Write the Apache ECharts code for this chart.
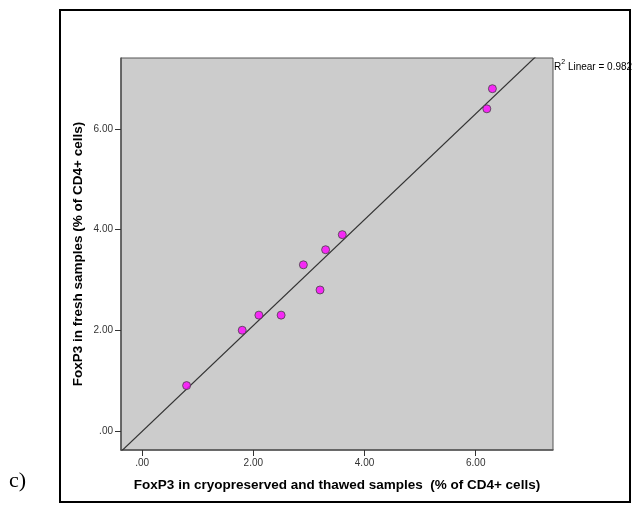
<!DOCTYPE html>
<html>
<head>
<meta charset="utf-8">
<script src="https://cdn.jsdelivr.net/npm/echarts@6/dist/echarts.min.js"></script>
<style>
html, body { margin: 0; padding: 0; background: #fff; }
#chart { width: 632px; height: 509px; }
</style>
</head>
<body>
<div id="chart"></div>
<script>
// cryopreserved/thawed (x) vs fresh (y), % of CD4+ cells
var xValues = [0.8, 1.8, 2.1, 2.5, 2.9, 3.2, 3.3, 3.6, 6.2, 6.3];
var yValues = [0.9, 2.0, 2.3, 2.3, 3.3, 2.8, 3.6, 3.9, 6.4, 6.8];
var tickValues = [0, 2, 4, 6];
var xRange = [-0.38, 7.39];
var yRange = [-0.38, 7.41];
var r2Text = "0.982";

var myChart = echarts.init(document.getElementById("chart"));

var points = [];
for (var i = 0; i < xValues.length; i++) {
	points.push([xValues[i], yValues[i]]);
}

// least squares fit line
function fitLine(xs, ys) {
	var n = xs.length, mx = 0, my = 0, sxy = 0, sxx = 0;
	for (var i = 0; i < n; i++) { mx += xs[i]; my += ys[i]; }
	mx = mx / n; my = my / n;
	for (var i = 0; i < n; i++) {
		sxy += (xs[i] - mx) * (ys[i] - my);
		sxx += (xs[i] - mx) * (xs[i] - mx);
	}
	var b = sxy / sxx;
	return { slope: b, intercept: my - b * mx };
}
var fit = fitLine(xValues, yValues);
var lineData = [
	[xRange[0], fit.intercept + fit.slope * xRange[0]],
	[xRange[1], fit.intercept + fit.slope * xRange[1]]
];

function tickFmt(v) {
	return v === 0 ? ".00" : v.toFixed(2);
}

var option = {
	animation: false,
	backgroundColor: "#fff",
	textStyle: { fontFamily: "Liberation Sans, Arial" },
	grid: {
		left: 121, top: 58, right: 79, bottom: 59,
		show: true, backgroundColor: "#cccccc", borderColor: "#555", borderWidth: 1
	},
	xAxis: {
		type: "value", min: xRange[0], max: xRange[1],
		name: "FoxP3 in cryopreserved and thawed samples  (% of CD4+ cells)",
		nameLocation: "middle", nameGap: 28, nameMoveOverlap: false,
		nameTextStyle: { fontSize: 13.5, fontWeight: "bold", color: "#000" },
		axisLine: { show: true, onZero: false, lineStyle: { color: "#555", width: 1.5 } },
		axisTick: { show: true, length: 6, customValues: tickValues, lineStyle: { color: "#333" } },
		axisLabel: { customValues: tickValues, formatter: tickFmt, fontSize: 10, color: "#333", margin: 8 },
		splitLine: { show: false }
	},
	yAxis: {
		type: "value", min: yRange[0], max: yRange[1],
		name: "FoxP3 in fresh samples (% of CD4+ cells)",
		nameLocation: "middle", nameGap: 36, nameMoveOverlap: false,
		nameTextStyle: { fontSize: 13.5, fontWeight: "bold", color: "#000" },
		axisLine: { show: true, onZero: false, lineStyle: { color: "#555", width: 1.5 } },
		axisTick: { show: true, length: 6, customValues: tickValues, lineStyle: { color: "#333" } },
		axisLabel: { customValues: tickValues, formatter: tickFmt, fontSize: 10, color: "#333", margin: 8 },
		splitLine: { show: false }
	},
	graphic: [
		{
			type: "rect", silent: true,
			shape: { x: 60, y: 10, width: 570, height: 492 },
			style: { fill: "none", stroke: "#000", lineWidth: 2 }
		},
		{
			type: "text", left: 9, top: 470,
			style: { text: "c)", font: "22px 'Liberation Serif', 'Times New Roman', serif", fill: "#000" }
		},
		{
			type: "text", left: 554, top: 59,
			style: {
				text: "{r|R}{s|2}{r| Linear = " + r2Text + "}",
				rich: {
					r: { fontSize: 10, fontFamily: "Liberation Sans, Arial", fill: "#000", verticalAlign: "bottom" },
					s: { fontSize: 7, fontFamily: "Liberation Sans, Arial", fill: "#000", verticalAlign: "top", padding: [0, 0, 6, 0] }
				}
			}
		}
	],
	series: [
		{
			type: "line", data: lineData, symbol: "none", clip: true, silent: true,
			lineStyle: { color: "#333", width: 1.2 }, z: 2
		},
		{
			type: "scatter", data: points, symbolSize: 8, z: 3,
			itemStyle: { color: "#ff00ff", borderColor: "#444", borderWidth: 1 }
		}
	]
};

myChart.setOption(option);
</script>
</body>
</html>
